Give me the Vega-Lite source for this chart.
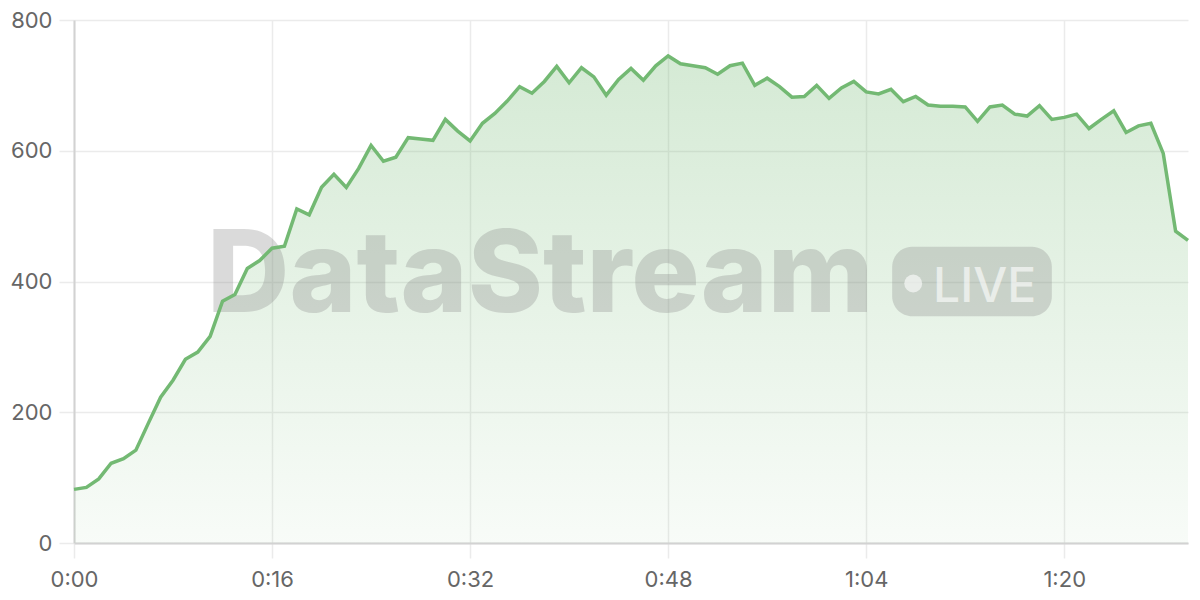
{
  "$schema": "https://vega.github.io/schema/vega-lite/v6.json",
  "width": 1114,
  "height": 523,
  "autosize": {"type": "none"},
  "padding": {"left": 74, "top": 20, "right": 12, "bottom": 57},
  "background": "#ffffff",
  "config": {
    "view": {"stroke": null},
    "font": "Inter",
    "axis": {
      "title": null,
      "grid": true,
      "gridColor": "#ebebeb",
      "gridWidth": 1.5,
      "domainColor": "#d2d2d2",
      "domainWidth": 2,
      "tickColor": "#ebebeb",
      "tickWidth": 1.5,
      "tickSize": 15,
      "labelFont": "Inter",
      "labelFontSize": 22,
      "labelColor": "#666666",
      "labelFlush": false
    }
  },
  "datasets": {
    "series": [
      {"t": 0, "value": 82}, {"t": 1, "value": 85}, {"t": 2, "value": 98}, {"t": 3, "value": 122},
      {"t": 4, "value": 129}, {"t": 5, "value": 142}, {"t": 6, "value": 183}, {"t": 7, "value": 223},
      {"t": 8, "value": 249}, {"t": 9, "value": 281}, {"t": 10, "value": 292}, {"t": 11, "value": 316},
      {"t": 12, "value": 370}, {"t": 13, "value": 380}, {"t": 14, "value": 420}, {"t": 15, "value": 432},
      {"t": 16, "value": 451}, {"t": 17, "value": 454}, {"t": 18, "value": 511}, {"t": 19, "value": 502},
      {"t": 20, "value": 544}, {"t": 21, "value": 564}, {"t": 22, "value": 544}, {"t": 23, "value": 573},
      {"t": 24, "value": 608}, {"t": 25, "value": 584}, {"t": 26, "value": 590}, {"t": 27, "value": 620},
      {"t": 28, "value": 618}, {"t": 29, "value": 616}, {"t": 30, "value": 648}, {"t": 31, "value": 630},
      {"t": 32, "value": 615}, {"t": 33, "value": 642}, {"t": 34, "value": 657}, {"t": 35, "value": 676},
      {"t": 36, "value": 698}, {"t": 37, "value": 688}, {"t": 38, "value": 706}, {"t": 39, "value": 729},
      {"t": 40, "value": 704}, {"t": 41, "value": 727}, {"t": 42, "value": 713}, {"t": 43, "value": 685},
      {"t": 44, "value": 709}, {"t": 45, "value": 726}, {"t": 46, "value": 708}, {"t": 47, "value": 730},
      {"t": 48, "value": 745}, {"t": 49, "value": 733}, {"t": 50, "value": 730}, {"t": 51, "value": 727},
      {"t": 52, "value": 717}, {"t": 53, "value": 730}, {"t": 54, "value": 734}, {"t": 55, "value": 700},
      {"t": 56, "value": 711}, {"t": 57, "value": 698}, {"t": 58, "value": 682}, {"t": 59, "value": 683},
      {"t": 60, "value": 700}, {"t": 61, "value": 680}, {"t": 62, "value": 696}, {"t": 63, "value": 706},
      {"t": 64, "value": 690}, {"t": 65, "value": 687}, {"t": 66, "value": 694}, {"t": 67, "value": 675},
      {"t": 68, "value": 683}, {"t": 69, "value": 670}, {"t": 70, "value": 668}, {"t": 71, "value": 668},
      {"t": 72, "value": 667}, {"t": 73, "value": 645}, {"t": 74, "value": 667}, {"t": 75, "value": 670},
      {"t": 76, "value": 656}, {"t": 77, "value": 653}, {"t": 78, "value": 669}, {"t": 79, "value": 648},
      {"t": 80, "value": 651}, {"t": 81, "value": 656}, {"t": 82, "value": 634}, {"t": 83, "value": 648},
      {"t": 84, "value": 661}, {"t": 85, "value": 628}, {"t": 86, "value": 638}, {"t": 87, "value": 642},
      {"t": 88, "value": 596}, {"t": 89, "value": 477}, {"t": 90, "value": 463}
    ]
  },
  "layer": [
    {
      "data": {"name": "series"},
      "mark": {
        "type": "area",
        "interpolate": "linear",
        "color": {
          "gradient": "linear",
          "x1": 0, "y1": 0, "x2": 0, "y2": 1,
          "stops": [
            {"offset": 0, "color": "rgba(115,185,115,0.30)"},
            {"offset": 1, "color": "rgba(115,185,115,0.05)"}
          ]
        }
      },
      "encoding": {
        "x": {
          "field": "t",
          "type": "quantitative",
          "scale": {"domain": [0, 90], "nice": false, "zero": false},
          "axis": {
            "values": [0, 16, 32, 48, 64, 80],
            "labelPadding": 11,
            "labelExpr": "floor(datum.value / 60) + ':' + (datum.value % 60 < 10 ? '0' : '') + (datum.value % 60)"
          }
        },
        "y": {
          "field": "value",
          "type": "quantitative",
          "scale": {"domain": [0, 800], "nice": false},
          "axis": {"values": [0, 200, 400, 600, 800], "labelPadding": 7}
        }
      }
    },
    {
      "data": {"values": [{}]},
      "mark": {
        "type": "text",
        "text": "DataStream",
        "font": "Inter",
        "fontWeight": 800,
        "fontSize": 114,
        "align": "left",
        "baseline": "alphabetic",
        "color": "#888888",
        "opacity": 0.3
      },
      "encoding": {
        "x": {"datum": 10.75, "type": "quantitative"},
        "y": {"datum": 353, "type": "quantitative"}
      }
    },
    {
      "data": {"values": [{}]},
      "mark": {
        "type": "rect",
        "cornerRadius": 20,
        "color": "#888888",
        "opacity": 0.3
      },
      "encoding": {
        "x": {"datum": 66.1, "type": "quantitative"},
        "x2": {"datum": 79.0},
        "y": {"datum": 453, "type": "quantitative"},
        "y2": {"datum": 347}
      }
    },
    {
      "data": {"values": [{}]},
      "mark": {
        "type": "point",
        "shape": "circle",
        "filled": true,
        "size": 320,
        "color": "#ffffff",
        "opacity": 0.6
      },
      "encoding": {
        "x": {"datum": 67.8, "type": "quantitative"},
        "y": {"datum": 397, "type": "quantitative"}
      }
    },
    {
      "data": {"values": [{}]},
      "mark": {
        "type": "text",
        "text": "LIVE",
        "font": "Inter",
        "fontWeight": 500,
        "fontSize": 48,
        "align": "left",
        "baseline": "alphabetic",
        "color": "#ffffff",
        "opacity": 0.6
      },
      "encoding": {
        "x": {"datum": 69.4, "type": "quantitative"},
        "y": {"datum": 368, "type": "quantitative"}
      }
    },
    {
      "data": {"name": "series"},
      "mark": {
        "type": "line",
        "interpolate": "linear",
        "color": "#73b973",
        "strokeWidth": 3.5,
        "strokeJoin": "miter"
      },
      "encoding": {
        "x": {"field": "t", "type": "quantitative"},
        "y": {"field": "value", "type": "quantitative"}
      }
    }
  ]
}
